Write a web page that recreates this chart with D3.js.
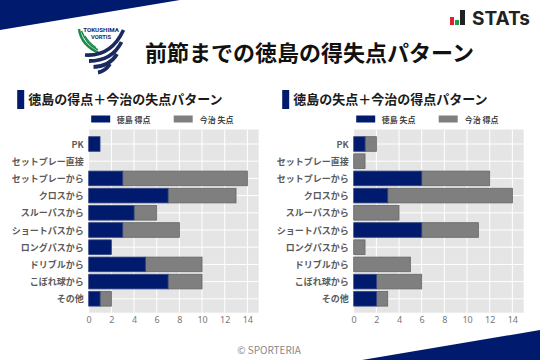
<!DOCTYPE html>
<html><head><meta charset="utf-8">
<script src="https://cdn.jsdelivr.net/npm/d3@7/dist/d3.min.js"></script>
<style>html,body{margin:0;padding:0;background:#fff}svg{display:block}
text{font-family:"Noto Sans CJK JP","Noto Sans",sans-serif}</style></head><body>
<svg id="c" width="540" height="360"></svg>
<script>
const categories = ["PK","セットプレー直接","セットプレーから","クロスから","スルーパスから","ショートパスから","ロングパスから","ドリブルから","こぼれ球から","その他"];
const leftPrimary = [1,0,3,7,4,3,2,5,7,1];
const leftSecondary = [0,0,11,6,2,5,0,5,3,1];
const rightPrimary = [1,0,6,3,0,6,0,0,2,2];
const rightSecondary = [1,1,6,11,4,5,1,5,4,1];
const xTicks = [0,2,4,6,8,10,12,14];
const titleText = "前節までの徳島の得失点パターン";
const leftTitle = "徳島の得点＋今治の失点パターン";
const rightTitle = "徳島の失点＋今治の得点パターン";
const leftLegend = ["徳島 得点","今治 失点"];
const rightLegend = ["徳島 失点","今治 得点"];
const navy = "#001a6e", grey = "#7f7f7f";
const svg = d3.select("#c");
svg.append("path").attr("d","M0,0H180L0,30Z").attr("fill",navy);
svg.append("path").attr("d","M540,330V360H362Z").attr("fill",navy);
svg.append("text").attr("x",309.5).attr("y",61).attr("text-anchor","middle").attr("font-size",22).attr("font-weight",700).attr("fill","#111").text(titleText);

// crest
const crest = svg.append("g");
const crestText = (t,y,s)=>crest.append("text").attr("x",101).attr("y",y).attr("text-anchor","middle").attr("font-size",s).attr("font-weight",700).attr("fill","#1b2a5e").style("font-family","Roboto,sans-serif").text(t);
crestText("TOKUSHIMA",32,6.2);
crestText("VORTIS",39,5.8);
[["M79,29Q81,45 99,53",2.4],["M81.5,31Q86,44 98,50",1.6],["M85,36Q89,43 96,47.5",1.4]].forEach(s=>
  crest.append("path").attr("d",s[0]).attr("fill","none").attr("stroke","#1c8a4c").attr("stroke-width",s[1]));
[["M85,55Q111,57 123.5,30",3.6],["M89,61Q112,61 121.5,42",3.8],["M93.5,67Q110,66 117,54",3.8],["M98,72.5Q105,71.5 110,64",3.8]].forEach(s=>
  crest.append("path").attr("d",s[0]).attr("fill","none").attr("stroke","#1b2a5e").attr("stroke-width",s[1]));

// STATs logo
[[450,17,4,8,"#e0202a"],[455,20,4,5,"#1f9a4a"],[460,10,5,15,"#222"]].forEach(b=>
  svg.append("rect").attr("x",b[0]).attr("y",b[1]).attr("width",b[2]).attr("height",b[3]).attr("fill",b[4]));
svg.append("text").attr("x",472).attr("y",24.5).attr("font-size",19).attr("font-weight",700).attr("fill","#222")
  .attr("textLength",58).attr("lengthAdjust","spacingAndGlyphs")
  .style("font-family","Inter,Roboto,sans-serif").text("STATs");

svg.append("text").attr("x",269).attr("y",354).attr("text-anchor","middle").attr("font-size",10).attr("fill","#888").text("© SPORTERIA");

function panel(x0, title, legend, a, b){
  const g = svg.append("g");
  const x = d3.scaleLinear().domain([0,15]).range([x0,x0+170]);
  const y = d3.scaleBand().domain(categories).range([135.4,307.4]).paddingInner(0.15).paddingOuter(0.075);
  g.append("rect").attr("x",x0-71.5).attr("y",90).attr("width",7).attr("height",19).attr("fill",navy);
  g.append("text").attr("x",x0-60.5).attr("y",104).attr("font-size",13).attr("font-weight",700).attr("fill","#1a1a1a").text(title);
  g.append("rect").attr("x",x0+2.5).attr("y",115.5).attr("width",19).attr("height",7).attr("fill",navy);
  g.append("rect").attr("x",x0+85).attr("y",115.5).attr("width",19).attr("height",7).attr("fill",grey);
  g.append("text").attr("x",x0+28).attr("y",122.5).attr("font-size",8).attr("font-weight",700).attr("fill","#444").text(legend[0]);
  g.append("text").attr("x",x0+111).attr("y",122.5).attr("font-size",8).attr("font-weight",700).attr("fill","#444").text(legend[1]);

  g.append("rect").attr("x",x0).attr("y",129.5).attr("width",170).attr("height",183.2).attr("fill","#e5e5e5");
  g.selectAll(".gx").data(xTicks).join("line").attr("x1",d=>x(d)).attr("x2",d=>x(d)).attr("y1",129.5).attr("y2",312.7).attr("stroke","#fff").attr("stroke-width",1);
  g.selectAll(".gy").data(categories).join("line").attr("x1",x0).attr("x2",x0+170)
    .attr("y1",d=>y(d)+y.bandwidth()/2).attr("y2",d=>y(d)+y.bandwidth()/2).attr("stroke","#fff").attr("stroke-width",1);

  const bars = (vals, base, fill) => g.selectAll(null).data(categories).join("rect")
    .attr("x",(d,i)=>x(base[i])).attr("width",(d,i)=>x(base[i]+vals[i])-x(base[i]))
    .attr("y",d=>y(d)).attr("height",y.bandwidth()).attr("fill",fill)
    .attr("stroke",fill===grey?"#666":"#33427f").attr("stroke-width",(d,i)=>vals[i]?0.8:0);
  bars(b, a, grey);
  bars(a, a.map(()=>0), navy);

  const yAxis = g.append("g").attr("transform",`translate(${x0},0.8)`).call(d3.axisLeft(y).tickSize(0).tickPadding(5));
  yAxis.select(".domain").remove();
  yAxis.selectAll("text").attr("font-size",9).attr("font-weight",700).attr("fill","#5a5a5a").style("font-family",'"Noto Sans CJK JP",sans-serif');
  const xAxis = g.append("g").attr("transform","translate(0,312.7)").call(d3.axisBottom(x).tickValues(xTicks).tickFormat(d3.format("d")).tickSize(0).tickPadding(4));
  xAxis.select(".domain").remove();
  xAxis.selectAll("text").attr("font-size",9).attr("fill","#777").style("font-family",'"Noto Sans",sans-serif');
}
panel(88.7, leftTitle, leftLegend, leftPrimary, leftSecondary);
panel(353.7, rightTitle, rightLegend, rightPrimary, rightSecondary);
</script></body></html>
